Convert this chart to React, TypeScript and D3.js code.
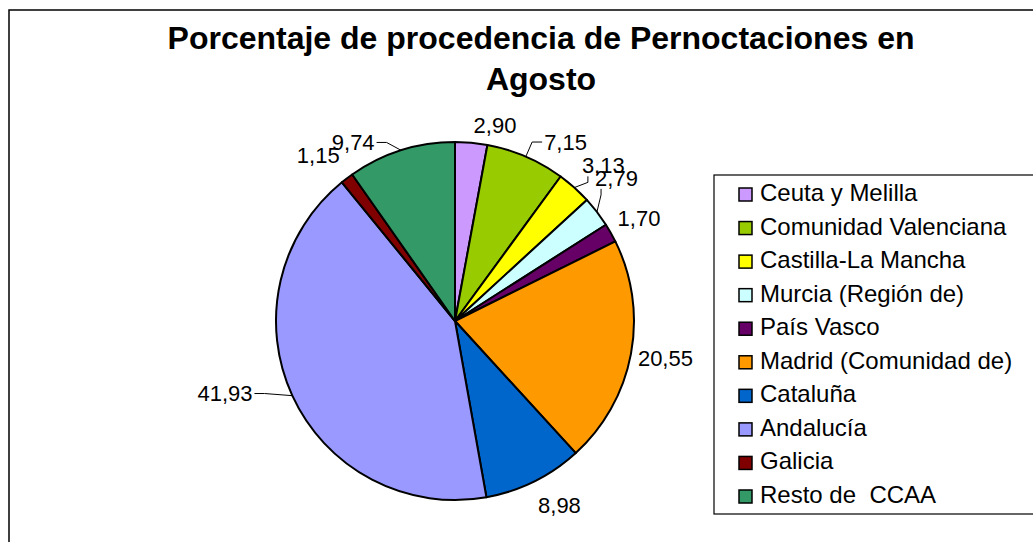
import React, { useEffect, useRef } from "react";
import * as d3 from "d3";

const regions = [
  "Ceuta y Melilla",
  "Comunidad Valenciana",
  "Castilla-La Mancha",
  "Murcia (Región de)",
  "País Vasco",
  "Madrid (Comunidad de)",
  "Cataluña",
  "Andalucía",
  "Galicia",
  "Resto de  CCAA",
];

const percentages = [2.9, 7.15, 3.13, 2.79, 1.7, 20.55, 8.98, 41.93, 1.15, 9.74];

const sliceColors = [
  "#CC99FF",
  "#99CC00",
  "#FFFF00",
  "#CCFFFF",
  "#660066",
  "#FF9900",
  "#0066CC",
  "#9999FF",
  "#800000",
  "#339966",
];

// labels dragged away from their default spot in the original chart
const labelShift = [
  [22, 1],
  [30, 8],
  [10, -1],
  [-4, -16],
  [2, 0],
  [0, -2],
  [14, 1],
  [-35, -17],
  [-12, -1],
  [-41, 14],
];
const hasLeader = [false, true, true, true, false, false, false, true, false, true];

const titleLines = ["Porcentaje de procedencia de Pernoctaciones en", "Agosto"];

const App = () => {
  const svgRef = useRef<SVGSVGElement | null>(null);

  useEffect(() => {
    const width = 1033;
    const height = 542;
    const cx = 455;
    const cy = 321;
    const radius = 179;
    const font = "Arial, 'Liberation Sans', sans-serif";
    const labelSize = 22;

    const svg = d3.select(svgRef.current).attr("width", width).attr("height", height);
    svg.selectAll("*").remove();

    svg
      .append("rect")
      .attr("width", width)
      .attr("height", height)
      .attr("fill", "#fff");

    svg
      .append("rect")
      .attr("x", 9)
      .attr("y", 10)
      .attr("width", 1200)
      .attr("height", 700)
      .attr("fill", "none")
      .attr("stroke", "#000")
      .attr("stroke-width", 1.5);

    svg
      .append("g")
      .selectAll("text")
      .data(titleLines)
      .join("text")
      .attr("x", 541)
      .attr("y", (d, i) => 49 + i * 41)
      .attr("text-anchor", "middle")
      .attr("font-family", font)
      .attr("font-weight", "bold")
      .attr("font-size", "32px")
      .text((d) => d);

    const pie = d3
      .pie<number>()
      .sort(null)
      .value((d) => d);
    const arcs = pie(percentages);
    const arc = d3.arc<d3.PieArcDatum<number>>().innerRadius(0).outerRadius(radius);

    const g = svg.append("g").attr("transform", `translate(${cx}, ${cy})`);

    g.selectAll("path")
      .data(arcs)
      .join("path")
      .attr("d", arc)
      .attr("fill", (d, i) => sliceColors[i])
      .attr("stroke", "#000")
      .attr("stroke-width", 2)
      .attr("stroke-linejoin", "round");

    const fmt = (v: number) => v.toFixed(2).replace(".", ",");
    const digitW = labelSize * 0.556;
    const commaW = labelSize * 0.278;
    const boxH = 22;

    const labels = arcs.map((a, i) => {
      const mid = (a.startAngle + a.endAngle) / 2;
      const ux = Math.sin(mid);
      const uy = -Math.cos(mid);
      const txt = fmt(a.data);
      const w = (txt.length - 1) * digitW + commaW;
      const ext = (w / 2) * Math.abs(ux) + (boxH / 2) * Math.abs(uy);
      const dist = radius + 6 + ext;
      const lx = ux * dist + labelShift[i][0];
      const ly = uy * dist + labelShift[i][1];
      return { i, txt, w, lx, ly, px: ux * radius, py: uy * radius };
    });

    const leaders = labels.filter((l) => hasLeader[l.i]);
    g.selectAll("polyline")
      .data(leaders)
      .join("polyline")
      .attr("fill", "none")
      .attr("stroke", "#000")
      .attr("stroke-width", 1)
      .attr("points", (l) => {
        const left = l.lx - l.w / 2 - 2;
        const right = l.lx + l.w / 2 + 2;
        const bottom = l.ly + boxH / 2;
        if (l.py > bottom && l.px >= left - 10 && l.px <= right) {
          const ex = left + 8;
          return `${l.px},${l.py} ${ex},${bottom + 6} ${ex},${bottom}`;
        }
        if (l.px < left) {
          return `${l.px},${l.py} ${left - 10},${l.ly} ${left},${l.ly}`;
        }
        return `${l.px},${l.py} ${right + 10},${l.ly} ${right},${l.ly}`;
      });

    g.selectAll("text")
      .data(labels)
      .join("text")
      .attr("x", (l) => l.lx)
      .attr("y", (l) => l.ly + labelSize * 0.358)
      .attr("text-anchor", "middle")
      .attr("font-family", font)
      .attr("font-size", `${labelSize}px`)
      .attr("fill", "#000")
      .text((l) => l.txt);

    const legend = svg.append("g").attr("transform", "translate(714, 175)");

    legend
      .append("rect")
      .attr("width", 400)
      .attr("height", 339)
      .attr("fill", "#fff")
      .attr("stroke", "#000")
      .attr("stroke-width", 1.2);

    const rowY = d3
      .scalePoint<number>()
      .domain(d3.range(regions.length))
      .range([26, 328]);

    const items = legend
      .selectAll("g.item")
      .data(regions)
      .join("g")
      .attr("class", "item")
      .attr("transform", (d, i) => `translate(0, ${rowY(i)})`);

    items
      .append("rect")
      .attr("x", 25)
      .attr("y", -13)
      .attr("width", 13)
      .attr("height", 13)
      .attr("fill", (d, i) => sliceColors[i])
      .attr("stroke", "#000")
      .attr("stroke-width", 1.5);

    items
      .append("text")
      .attr("x", 46)
      .attr("y", 0)
      .attr("font-family", font)
      .attr("font-size", "24px")
      .attr("fill", "#000")
      .style("white-space", "pre")
      .text((d) => d);
  }, []);

  return (
    <div>
      <svg
        ref={svgRef}
        style={{ position: "absolute", left: 0, top: 0, display: "block" }}
      ></svg>
    </div>
  );
};

export default App;
